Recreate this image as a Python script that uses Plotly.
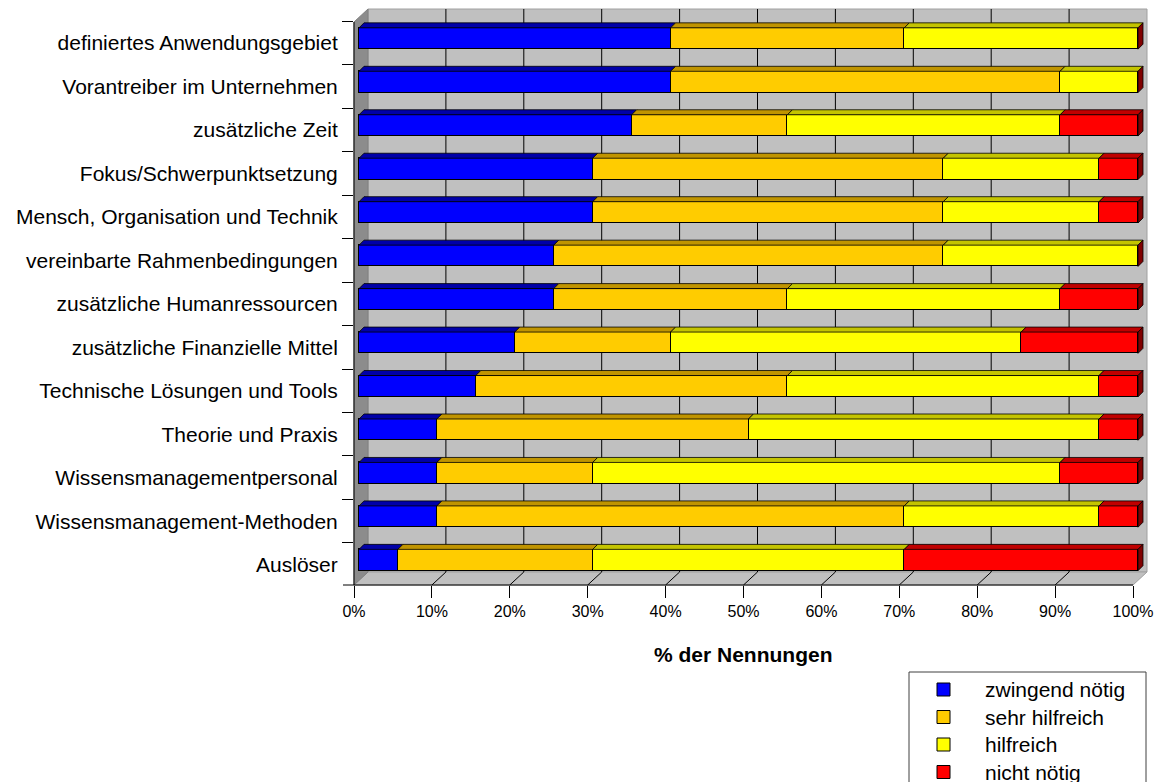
import plotly.graph_objects as go

# --- data -------------------------------------------------------------
categories = [
    "definiertes Anwendungsgebiet",
    "Vorantreiber im Unternehmen",
    "zusätzliche Zeit",
    "Fokus/Schwerpunktsetzung",
    "Mensch, Organisation und Technik",
    "vereinbarte Rahmenbedingungen",
    "zusätzliche Humanressourcen",
    "zusätzliche Finanzielle Mittel",
    "Technische Lösungen und Tools",
    "Theorie und Praxis",
    "Wissensmanagementpersonal",
    "Wissensmanagement-Methoden",
    "Auslöser",
]
zwingend_noetig = [40, 40, 35, 30, 30, 25, 25, 20, 15, 10, 10, 10, 5]
sehr_hilfreich = [30, 50, 20, 45, 45, 50, 30, 20, 40, 40, 20, 60, 25]
hilfreich = [30, 10, 35, 20, 20, 25, 35, 45, 40, 45, 60, 25, 40]
nicht_noetig = [0, 0, 10, 5, 5, 0, 10, 15, 5, 5, 10, 5, 30]

series_names = ["zwingend nötig", "sehr hilfreich", "hilfreich", "nicht nötig"]
series_values = [zwingend_noetig, sehr_hilfreich, hilfreich, nicht_noetig]
front_colors = ["#0000FF", "#FFCC00", "#FFFF00", "#FF0000"]
top_colors = ["#0000A8", "#C09400", "#C4C400", "#C00000"]
side_color = "#800000"

x_ticks = list(range(0, 101, 10))

# --- geometry (pixels) ------------------------------------------------
W, H = 1160, 782
L, R, T, B = 354, 1147, 9, 585          # plot area
PX_PER_PCT = 7.79                       # horizontal scale
ROW = 43.46                             # row pitch
BAR_ROW0 = 38.5                         # centre of first bar row (bar plane)
BAR_X0 = 359                            # 0 % on the bar plane
FRONT_SHIFT_X, FRONT_SHIFT_Y = -5, 4.6  # front plane relative to bar plane
DEPTH_X, DEPTH_Y = 14, 13               # full wall depth
BAR_DX, BAR_DY = 5, 5                   # bar thickness in depth
BAR_W = 0.49

x_range = [(L - BAR_X0) / PX_PER_PCT, (R - BAR_X0) / PX_PER_PCT]
y_range = [(B - BAR_ROW0) / ROW, (T - BAR_ROW0) / ROW]
x2_range = [x_range[0] - FRONT_SHIFT_X / PX_PER_PCT, x_range[1] - FRONT_SHIFT_X / PX_PER_PCT]
y2_range = [y_range[0] - FRONT_SHIFT_Y / ROW, y_range[1] - FRONT_SHIFT_Y / ROW]

dx = BAR_DX / PX_PER_PCT
dy = BAR_DY / ROW


def px(xp):
    return (xp - L) / (R - L)


def py(yp):
    return (B - yp) / (B - T)


idx = list(range(len(categories)))
fig = go.Figure()

# front faces of the stacked bars
for name, vals, col in zip(series_names, series_values, front_colors):
    fig.add_trace(go.Bar(
        y=idx, x=vals, name=name, orientation="h", width=BAR_W,
        marker=dict(color=col, line=dict(color="#000000", width=1)),
        showlegend=False, hoverinfo="x+name",
    ))

# top faces of each segment
cum = [0] * len(categories)
for vals, tcol in zip(series_values, top_colors):
    xs, ys = [], []
    for i, v in enumerate(vals):
        x0, x1 = cum[i], cum[i] + v
        ytop = i - BAR_W / 2
        if v > 0:
            xs += [x0, x1, x1 + dx, x0 + dx, x0, None]
            ys += [ytop, ytop, ytop - dy, ytop - dy, ytop, None]
        cum[i] = x1
    fig.add_trace(go.Scatter(
        x=xs, y=ys, mode="lines", fill="toself", fillcolor=tcol,
        line=dict(color="#000000", width=0.8), showlegend=False, hoverinfo="skip",
    ))

# right-hand end faces
xs, ys = [], []
for i, total in enumerate(cum):
    ytop, ybot = i - BAR_W / 2, i + BAR_W / 2
    xs += [total, total + dx, total + dx, total, total, None]
    ys += [ytop, ytop - dy, ybot - dy, ybot, ytop, None]
fig.add_trace(go.Scatter(
    x=xs, y=ys, mode="lines", fill="toself", fillcolor=side_color,
    line=dict(color="#000000", width=0.8), showlegend=False, hoverinfo="skip",
))

# helper trace that activates the front-plane axes
fig.add_trace(go.Scatter(x=[None], y=[None], xaxis="x2", yaxis="y2",
                         showlegend=False, hoverinfo="skip"))

# --- walls, floor and grid -------------------------------------------
shapes = []
back_l, back_r, back_t, back_b = L + DEPTH_X, R, T, B - DEPTH_Y
front_r = R - DEPTH_X


def poly(points, fill, line_col, width=1, layer="below"):
    path = "M " + " L ".join(f"{px(a)},{py(b)}" for a, b in points) + " Z"
    return dict(type="path", path=path, xref="paper", yref="paper",
                fillcolor=fill, line=dict(color=line_col, width=width), layer=layer)


shapes.append(poly([(back_l, back_t), (back_r, back_t), (back_r, back_b), (back_l, back_b)],
                   "#C0C0C0", "#A0A0A0"))
shapes.append(poly([(L, B), (back_l, back_b), (back_r, back_b), (front_r, B)],
                   "#C0C0C0", "#A0A0A0"))
shapes.append(poly([(L, T + DEPTH_Y), (back_l, back_t), (back_l, back_b), (L, B)],
                   "#8C8C8C", "#808080"))

for t in x_ticks[1:-1]:
    gx_back = back_l + t * PX_PER_PCT
    gx_front = L + t * PX_PER_PCT
    shapes.append(dict(type="line", xref="paper", yref="paper",
                       x0=px(gx_back), x1=px(gx_back), y0=py(back_t), y1=py(back_b),
                       line=dict(color="#000000", width=1), layer="below"))
    shapes.append(dict(type="line", xref="paper", yref="paper",
                       x0=px(gx_back), x1=px(gx_front), y0=py(back_b), y1=py(B),
                       line=dict(color="#000000", width=1), layer="below"))

# axis lines
shapes.append(dict(type="line", xref="paper", yref="paper",
                   x0=px(L), x1=px(L), y0=py(T + DEPTH_Y), y1=py(B),
                   line=dict(color="#000000", width=1)))
shapes.append(dict(type="line", xref="paper", yref="paper",
                   x0=px(L - 11), x1=px(front_r), y0=py(B), y1=py(B),
                   line=dict(color="#000000", width=1)))

FAMILY = "Liberation Sans, Arial, sans-serif"
font_ticks = dict(family=FAMILY, size=16, color="#000000")
font_labels = dict(family=FAMILY, size=21, color="#000000")

annotations = [dict(text="% der Nennungen", xref="x2", yref="paper", x=50,
                    y=py(654), yanchor="middle", showarrow=False,
                    font=dict(family=FAMILY, size=21, color="#000000", weight="bold"))]

# --- legend box --------------------------------------------------------
LEG_L, LEG_R, LEG_T = 909, 1146, 672
LEG_ROW0, LEG_PITCH = 689.5, 27.5
SWATCH_L, SWATCH = 937, 13
TEXT_L = 983
shapes.append(poly([(LEG_L, LEG_T), (LEG_R, LEG_T), (LEG_R, H + 10), (LEG_L, H + 10)],
                   "#FFFFFF", "#404040", layer="above"))
for k, (name, col) in enumerate(zip(series_names, front_colors)):
    yc = LEG_ROW0 + k * LEG_PITCH
    shapes.append(poly([(SWATCH_L, yc - SWATCH / 2), (SWATCH_L + SWATCH, yc - SWATCH / 2),
                        (SWATCH_L + SWATCH, yc + SWATCH / 2), (SWATCH_L, yc + SWATCH / 2)],
                       col, "#000000", layer="above"))
    annotations.append(dict(text=name, xref="paper", yref="paper", x=px(TEXT_L), y=py(yc),
                            xanchor="left", yanchor="middle", showarrow=False,
                            font=font_labels))

fig.update_layout(
    width=W, height=H,
    margin=dict(l=L, r=W - R, t=T, b=H - B, autoexpand=False),
    paper_bgcolor="#FFFFFF", plot_bgcolor="#FFFFFF",
    barmode="stack", bargap=0,
    font=font_ticks,
    shapes=shapes,
    annotations=annotations,
    showlegend=False,
    xaxis=dict(range=x_range, showticklabels=False, showgrid=False, zeroline=False,
               showline=False, ticks=""),
    yaxis=dict(range=y_range, showticklabels=False, showgrid=False, zeroline=False,
               showline=False, ticks=""),
    xaxis2=dict(range=x2_range, overlaying="x", side="bottom", anchor="y2",
                tickvals=x_ticks, ticktext=[f"{t}%" for t in x_ticks],
                ticks="outside", ticklen=12, tickcolor="#000000",
                showgrid=False, zeroline=False, showline=False,
                tickfont=font_ticks),
    yaxis2=dict(range=y2_range, overlaying="y", side="left", anchor="x2",
                tickvals=idx, ticktext=categories,
                ticks="outside", ticklen=11, tickcolor="rgba(0,0,0,0)",
                minor=dict(tick0=0.5, dtick=1, ticks="outside", ticklen=11,
                           tickcolor="#000000"),
                showgrid=False, zeroline=False, showline=False,
                tickfont=font_labels),
)

fig.write_html("out.html")
